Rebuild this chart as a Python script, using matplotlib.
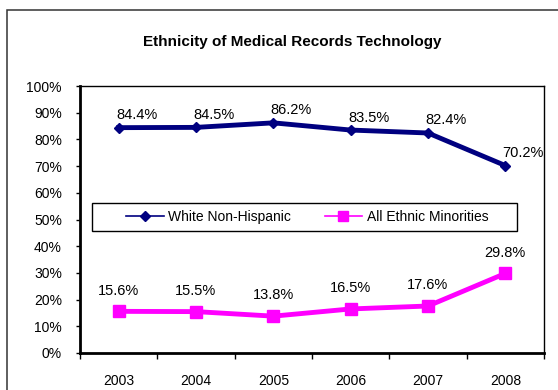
import matplotlib
matplotlib.use("Agg")
import matplotlib.pyplot as plt
from matplotlib.lines import Line2D
from matplotlib.patches import Rectangle
from matplotlib.ticker import FixedLocator

plt.rcParams['font.family'] = ['Liberation Sans', 'DejaVu Sans']

years = ["2003", "2004", "2005", "2006", "2007", "2008"]
white = [84.4, 84.5, 86.2, 83.5, 82.4, 70.2]
minorities = [15.6, 15.5, 13.8, 16.5, 17.6, 29.8]
yticks = [0, 10, 20, 30, 40, 50, 60, 70, 80, 90, 100]
title = "Ethnicity of Medical Records Technology"

W, H = 558, 390
fig = plt.figure(figsize=(W / 100, H / 100), dpi=100)
fig.patch.set_facecolor("white")

# outer frame (partially cut off on right/bottom like the reference)
fig.patches.append(Rectangle((7 / W, -20 / H), 2.0, (H - 10 + 20) / H,
                             transform=fig.transFigure, fill=False,
                             edgecolor="#333333", linewidth=1.1))

ax = fig.add_axes([80 / W, (H - 353) / H, (544 - 80) / W, (353 - 86) / H])
x = list(range(len(years)))

navy = "#000080"
mag = "#FF00FF"
ax.plot(x, white, color=navy, lw=3.5, marker="D", ms=5.5, mfc=navy, mec=navy,
        solid_joinstyle="round", zorder=3)
ax.plot(x, minorities, color=mag, lw=3.5, marker="s", ms=8, mfc=mag, mec=mag,
        solid_joinstyle="round", zorder=3)

for xi, v in zip(x, white):
    ax.annotate(f"{v:.1f}%", (xi, v), xytext=(-2, 9), textcoords="offset points",
                ha="left", va="center", fontsize=10.5, color="black")
for xi, v in zip(x, minorities):
    ax.annotate(f"{v:.1f}%", (xi, v), xytext=(0, 15), textcoords="offset points",
                ha="center", va="center", fontsize=10.5, color="black")

ax.set_xlim(-0.5, len(years) - 0.5)
ax.set_ylim(0, 100)
ax.set_yticks(yticks)
ax.set_yticklabels([f"{t}%" for t in yticks], fontsize=10)
ax.set_xticks(x)
ax.set_xticklabels(years, fontsize=10)
ax.xaxis.set_minor_locator(FixedLocator([i - 0.5 for i in range(len(years) + 1)]))
ax.tick_params(axis="x", which="major", length=0, pad=15)
ax.tick_params(axis="x", which="minor", length=4, width=1, direction="out", color="black")
ax.tick_params(axis="y", length=3, width=1, direction="out", pad=10, color="black")

for s in ["left", "bottom"]:
    ax.spines[s].set_linewidth(2)
    ax.spines[s].set_color("black")
for s in ["top", "right"]:
    ax.spines[s].set_linewidth(1)
    ax.spines[s].set_color("black")

fig.text(292 / W, (H - 42) / H, title, ha="center", va="center",
         fontsize=11, fontweight="bold")

# legend box
fig.patches.append(Rectangle((92 / W, (H - 231) / H), (517 - 92) / W, (231 - 203) / H,
                             transform=fig.transFigure, facecolor="white",
                             edgecolor="black", linewidth=1.0, zorder=4))
handles = [Line2D([], [], color=navy, lw=1.2, marker="D", ms=5, mfc=navy, mec=navy),
           Line2D([], [], color=mag, lw=1.2, marker="s", ms=7, mfc=mag, mec=mag)]
leg = fig.legend(handles, ["White Non-Hispanic", "All Ethnic Minorities"],
                 loc="center left", bbox_to_anchor=(126 / W, (H - 217) / H),
                 ncol=2, frameon=False, fontsize=10, handlelength=2.7,
                 handletextpad=0.35, columnspacing=2.4, borderpad=0,
                 borderaxespad=0)
leg.set_zorder(5)

fig.savefig("out.png", dpi=100)
